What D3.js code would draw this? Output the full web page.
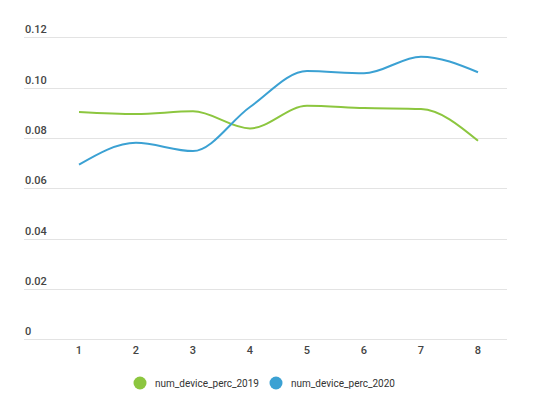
<!DOCTYPE html>
<html>
<head>
<meta charset="utf-8">
<script src="https://cdn.jsdelivr.net/npm/d3@7"></script>
<style>
  body { margin: 0; background: #fff; }
  text { font-family: Roboto, "Noto Sans", sans-serif; }
</style>
</head>
<body>
<svg id="chart" width="540" height="399"></svg>
<script>
// Data
const categories = [1, 2, 3, 4, 5, 6, 7, 8];
const perc2019 = [0.0903, 0.0895, 0.0906, 0.0838, 0.0928, 0.0919, 0.0915, 0.0789];
const perc2020 = [0.0694, 0.0781, 0.0748, 0.0923, 0.1066, 0.1057, 0.1123, 0.1061];
const yTicks = [0, 0.02, 0.04, 0.06, 0.08, 0.1, 0.12];
const seriesNames = ["num_device_perc_2019", "num_device_perc_2020"];
const seriesColors = ["#8cc63f", "#3ba1d3"];

const svg = d3.select("#chart");

const x = d3.scalePoint()
  .domain(categories)
  .range([79, 478]);

const y = d3.scaleLinear()
  .domain([0, 0.12])
  .range([339.3, 37.3]);

// grid lines + y labels
const grid = svg.append("g");
grid.selectAll("line")
  .data(yTicks)
  .join("line")
  .attr("x1", 24)
  .attr("x2", 507)
  .attr("y1", d => Math.round(y(d)) + 0.5)
  .attr("y2", d => Math.round(y(d)) + 0.5)
  .attr("stroke", "#e3e3e3")
  .attr("stroke-width", 1);

grid.selectAll("text")
  .data(yTicks)
  .join("text")
  .attr("x", 25)
  .attr("y", d => y(d) - 4)
  .attr("font-size", 11)
  .attr("font-weight", 500)
  .attr("fill", "#444")
  .text(d => d === 0 ? "0" : d3.format(".2f")(d));

// x axis labels
svg.append("g")
  .selectAll("text")
  .data(categories)
  .join("text")
  .attr("x", d => x(d))
  .attr("y", 354)
  .attr("text-anchor", "middle")
  .attr("font-size", 11)
  .attr("font-weight", 500)
  .attr("fill", "#444")
  .text(d => d);

// lines
const line = d3.line()
  .x((d, i) => x(categories[i]))
  .y(d => y(d))
  .curve(d3.curveMonotoneX);

svg.append("g")
  .selectAll("path")
  .data([perc2019, perc2020])
  .join("path")
  .attr("d", d => line(d))
  .attr("fill", "none")
  .attr("stroke", (d, i) => seriesColors[i])
  .attr("stroke-width", 2);

// legend
const legendX = [140, 276];
const legend = svg.append("g")
  .selectAll("g")
  .data(seriesNames)
  .join("g")
  .attr("transform", (d, i) => `translate(${legendX[i]},383)`);

legend.append("circle")
  .attr("r", 6.5)
  .attr("fill", (d, i) => seriesColors[i]);

legend.append("text")
  .attr("x", 15)
  .attr("y", 3.5)
  .attr("font-size", 10)
  .attr("fill", "#333")
  .text(d => d);
</script>
</body>
</html>
